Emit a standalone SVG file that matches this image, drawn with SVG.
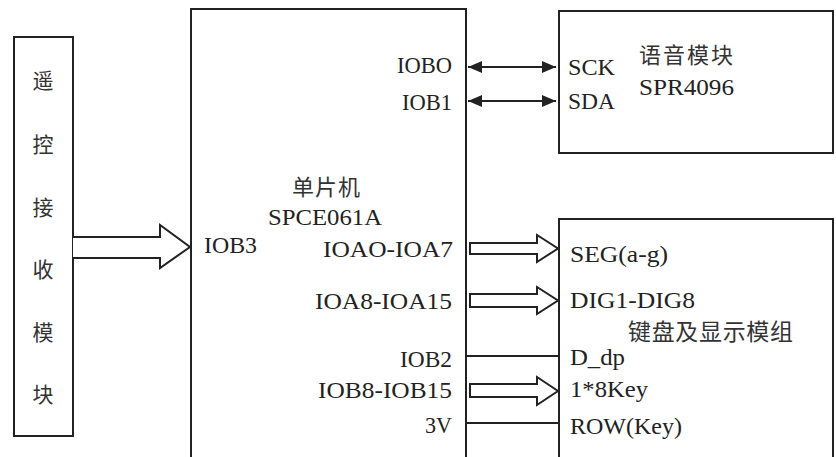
<svg xmlns="http://www.w3.org/2000/svg" width="836" height="457" viewBox="0 0 836 457">
<style>
.box{fill:#fff;stroke:#222;stroke-width:2}
.lat{font-family:"Liberation Serif","Times New Roman",serif;font-size:24px;fill:#222}
.cjk{font-family:"Noto Sans CJK SC","Noto Sans",sans-serif;font-size:21px;fill:#333}
.wire{stroke:#222;stroke-width:2;fill:none}
.hollow{fill:#fff;stroke:#222;stroke-width:2;stroke-linejoin:miter}
</style>
<defs>
<marker id="ah" viewBox="0 0 14 12" refX="14" refY="6" markerWidth="14" markerHeight="12" markerUnits="userSpaceOnUse" orient="auto-start-reverse">
<path d="M0,0 L14,6 L0,12 Z" fill="#222"/>
</marker>
</defs>
<rect width="836" height="457" fill="#fff"/>

<g id="remote">
<rect class="box" x="14" y="37" width="59" height="399"/>
<text class="cjk" x="43" y="88" text-anchor="middle">遥</text>
<text class="cjk" x="43" y="152" text-anchor="middle">控</text>
<text class="cjk" x="43" y="215" text-anchor="middle">接</text>
<text class="cjk" x="43" y="277" text-anchor="middle">收</text>
<text class="cjk" x="43" y="340" text-anchor="middle">模</text>
<text class="cjk" x="43" y="402" text-anchor="middle">块</text>
</g>

<g id="mcu">
<rect class="box" x="191" y="9" width="275" height="470"/>
<text class="cjk" x="292" y="195" style="font-size:22px" textLength="68" lengthAdjust="spacing">单片机</text>
<text class="lat" x="268" y="225" textLength="114" lengthAdjust="spacingAndGlyphs">SPCE061A</text>
<text class="lat" x="397" y="73" textLength="55" lengthAdjust="spacingAndGlyphs">IOBO</text>
<text class="lat" x="402" y="110" textLength="50" lengthAdjust="spacingAndGlyphs">IOB1</text>
<text class="lat" x="204" y="253" textLength="53" lengthAdjust="spacingAndGlyphs">IOB3</text>
<text class="lat" x="323" y="257" textLength="130" lengthAdjust="spacingAndGlyphs">IOAO-IOA7</text>
<text class="lat" x="315" y="309" textLength="137" lengthAdjust="spacingAndGlyphs">IOA8-IOA15</text>
<text class="lat" x="400" y="367" textLength="52" lengthAdjust="spacingAndGlyphs">IOB2</text>
<text class="lat" x="318" y="398" textLength="134" lengthAdjust="spacingAndGlyphs">IOB8-IOB15</text>
<text class="lat" x="425" y="433" textLength="27" lengthAdjust="spacingAndGlyphs">3V</text>
</g>

<g id="voice">
<rect class="box" x="559" y="11" width="274" height="142"/>
<text class="lat" x="568" y="75" textLength="47" lengthAdjust="spacingAndGlyphs">SCK</text>
<text class="lat" x="568" y="109" textLength="47" lengthAdjust="spacingAndGlyphs">SDA</text>
<text class="cjk" x="639" y="63" style="font-size:22px" textLength="94" lengthAdjust="spacing">语音模块</text>
<text class="lat" x="639" y="95" textLength="95" lengthAdjust="spacingAndGlyphs">SPR4096</text>
</g>

<g id="keypad">
<rect class="box" x="559" y="219" width="274" height="260"/>
<text class="lat" x="570" y="262" textLength="98" lengthAdjust="spacingAndGlyphs">SEG(a-g)</text>
<text class="lat" x="570" y="308" textLength="125" lengthAdjust="spacingAndGlyphs">DIG1-DIG8</text>
<text class="cjk" x="628" y="340" style="font-size:23px" textLength="165" lengthAdjust="spacing">键盘及显示模组</text>
<text class="lat" x="570" y="365" textLength="55" lengthAdjust="spacingAndGlyphs">D_dp</text>
<text class="lat" x="570" y="397" textLength="78" lengthAdjust="spacingAndGlyphs">1*8Key</text>
<text class="lat" x="570" y="434" textLength="112" lengthAdjust="spacingAndGlyphs">ROW(Key)</text>
</g>

<g id="connectors">
<path class="hollow" d="M73,237 H160 V225 L190,247 L160,268 V258 H73"/>
<line class="wire" x1="468" y1="67" x2="556" y2="67" marker-start="url(#ah)" marker-end="url(#ah)"/>
<line class="wire" x1="468" y1="101" x2="556" y2="101" marker-start="url(#ah)" marker-end="url(#ah)"/>
<path class="hollow" d="M470,243 H537 V235 L558,248.5 L537,262 V254 H470 Z"/>
<path class="hollow" d="M470,294 H537 V287 L558,300.5 L537,314 V307 H470 Z"/>
<line class="wire" x1="466" y1="356" x2="559" y2="356"/>
<path class="hollow" d="M470,384 H537 V377 L558,391 L537,405 V397 H470 Z"/>
<line class="wire" x1="466" y1="423" x2="559" y2="423"/>
</g>
</svg>
